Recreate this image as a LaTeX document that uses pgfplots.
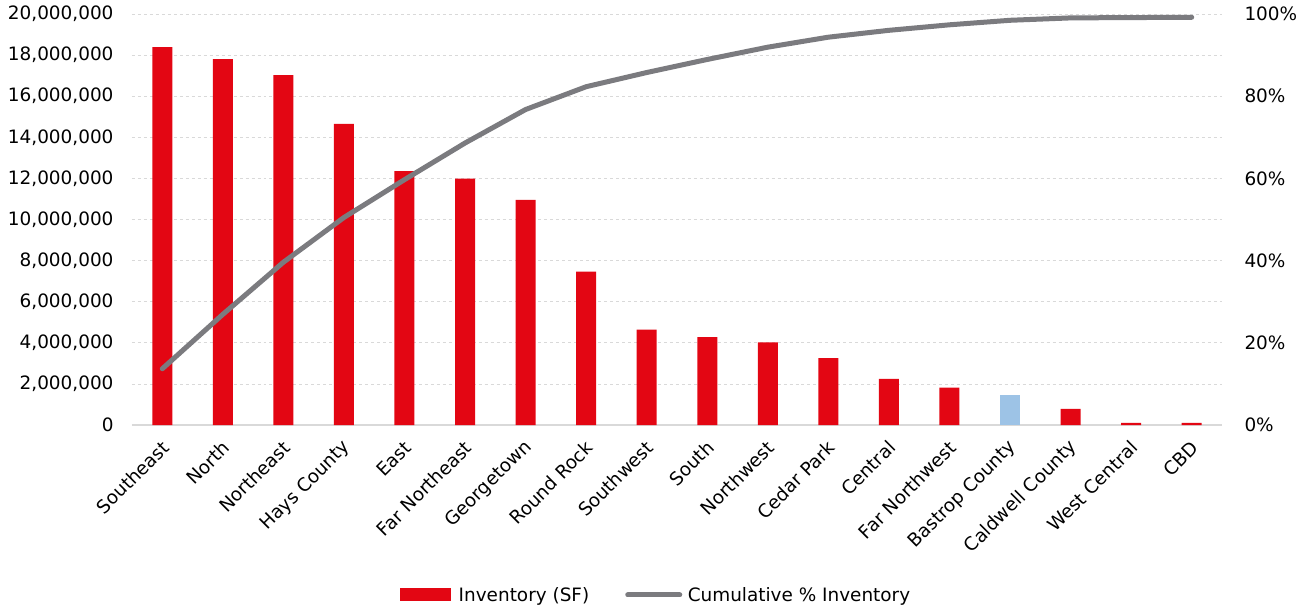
\documentclass[border=0pt]{standalone}
\usepackage{pgfplots}
\pgfplotsset{compat=1.18}
\usepackage{fontspec}
\setmainfont{DejaVu Sans}
\definecolor{barred}{HTML}{E30613}
\definecolor{barblue}{HTML}{9DC3E6}
\definecolor{linegray}{HTML}{7B7B7F}
\definecolor{gridgray}{HTML}{D9D9D9}
\begin{document}
\begin{tikzpicture}[font=\fontsize{18.5}{22}\selectfont]
\useasboundingbox (-132bp,-182bp) rectangle (1170bp,425bp);
\pgfplotsset{
  common/.style={
    at={(0,0)}, anchor=south west, scale only axis,
    width=1090bp, height=411bp,
    xmin=-0.5, xmax=17.5,
    /pgf/number format/assume math mode=true,
    tick style={draw=none},
    major tick length=0pt,
  }
}
\begin{axis}[common,
  ymin=0, ymax=20000000,
  ytick={0,2000000,4000000,6000000,8000000,10000000,12000000,14000000,16000000,18000000,20000000},
  scaled y ticks=false,
  yticklabel style={/pgf/number format/fixed, /pgf/number format/precision=0, /pgf/number format/1000 sep={,}, /pgf/number format/assume math mode=true, xshift=-15bp},
  ymajorgrids, grid style={dashed, gridgray, line width=0.8bp},
  axis x line*=bottom, axis y line*=left,
  y axis line style={draw=none},
  x axis line style={draw=gridgray, line width=1.2bp, -},
  xtick={0,1,...,17},
  xticklabels={Southeast,North,Northeast,Hays County,East,Far Northeast,Georgetown,Round Rock,Southwest,South,Northwest,Cedar Park,Central,Far Northwest,Bastrop County,Caldwell County,West Central,CBD},
  xticklabel style={rotate=45, anchor=east, xshift=-8bp, yshift=-16bp},
]
\addplot[ybar, bar width=20bp, bar shift=0pt, fill=barred, draw=none] coordinates {
(0,18390000) (1,17810000) (2,17030000) (3,14650000) (4,12360000) (5,11990000)
(6,10960000) (7,7460000) (8,4640000) (9,4280000) (10,4020000) (11,3260000)
(12,2240000) (13,1820000) (15,790000) (16,100000) (17,100000)
};
\addplot[ybar, bar width=20bp, bar shift=0pt, fill=barblue, draw=none] coordinates {
(14,1460000)
};
\end{axis}
\begin{axis}[common,
  ymin=0, ymax=100,
  axis y line*=right, axis x line=none,
  y axis line style={draw=none},
  ytick={0,20,40,60,80,100},
  yticklabel={\pgfmathprintnumber{\tick}\%},
  yticklabel style={xshift=19bp},
  legend style={at={(0.4807,-0.4136)}, anchor=center, draw=none, fill=none,
    legend columns=-1, font=\fontsize{18.5}{22}\selectfont,
    /tikz/every even column/.append style={column sep=34bp}},
  legend cell align=left,
]
\addlegendimage{legend image code/.code={\fill[barred,draw=none] (0bp,-6.5bp) rectangle (51bp,6.5bp); \path[draw=none,fill=none] (0bp,0bp) -- (57bp,0bp);}}
\addlegendentry{Inventory (SF)}
\addplot[linegray, line width=5bp, line cap=round, line join=round,
  legend image code/.code={\draw[linegray, line width=5bp] (0bp,0bp) -- (52bp,0bp); \path[draw=none,fill=none] (0bp,0bp) -- (58bp,0bp);}] coordinates {
(0,13.68) (1,26.92) (2,39.60) (3,50.49) (4,59.69) (5,68.61) (6,76.76) (7,82.31)
(8,85.76) (9,88.94) (10,91.93) (11,94.36) (12,96.03) (13,97.37) (14,98.47)
(15,99.05) (16,99.13) (17,99.2)
};
\addlegendentry{Cumulative \% Inventory}
\end{axis}
\end{tikzpicture}
\end{document}
